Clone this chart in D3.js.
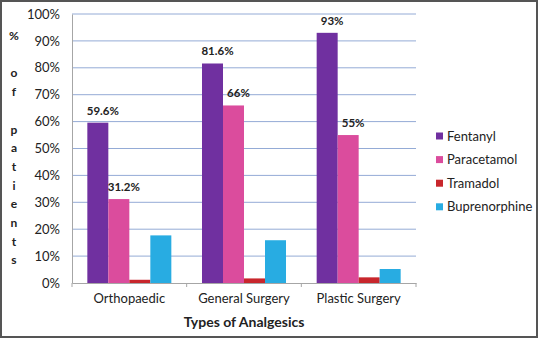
<!DOCTYPE html>
<html><head><meta charset="utf-8">
<script src="https://cdn.jsdelivr.net/npm/d3@7"></script>
<style>html,body{margin:0;padding:0;background:#fff}svg{display:block}</style>
</head><body>
<script>
const categories = ["Orthopaedic", "General Surgery", "Plastic Surgery"];
const seriesNames = ["Fentanyl", "Paracetamol", "Tramadol", "Buprenorphine"];
const fentanyl = [59.6, 81.6, 93];
const paracetamol = [31.2, 66, 55];
const tramadol = [1.2, 1.7, 2.1];
const buprenorphine = [17.7, 15.9, 5.2];
const seriesValues = [fentanyl, paracetamol, tramadol, buprenorphine];
const labelTexts = [["59.6%", "31.2%"], ["81.6%", "66%"], ["93%", "55%"]];
const yTicks = [0, 10, 20, 30, 40, 50, 60, 70, 80, 90, 100];
const yTitle = ["%", "", "o", "f", "", "p", "a", "t", "i", "e", "n", "t", "s"];
const xTitle = "Types of Analgesics";
const colors = ["#7030a0", "#db4c9d", "#c8262c", "#28ace2"];

const W = 538, H = 338;
const svg = d3.select("body").append("svg").attr("width", W).attr("height", H);
const font = "Lato, 'Open Sans', sans-serif";

svg.append("rect").attr("x", 1).attr("y", 1).attr("width", W - 2).attr("height", H - 2)
  .attr("fill", "#fff").attr("stroke", "#555").attr("stroke-width", 2);

const x0 = d3.scaleBand().domain(categories).range([72, 416]).paddingInner(0).paddingOuter(0);
const x1 = d3.scaleBand().domain(seriesNames).range([0, x0.bandwidth()]).paddingInner(0).paddingOuter(0.73);
const y = d3.scaleLinear().domain([0, 100]).range([283, 14]);

// gridlines
svg.append("g").selectAll("line").data(yTicks.filter(d => d > 0)).join("line")
  .attr("x1", 72).attr("x2", 416).attr("y1", d => y(d)).attr("y2", d => y(d))
  .attr("stroke", "#94abd6").attr("stroke-width", 1);

// y axis
const ya = svg.append("g").attr("transform", "translate(72,0)")
  .call(d3.axisLeft(y).tickValues(yTicks).tickFormat(d => d + "%").tickSize(0).tickPadding(12));
ya.select(".domain").attr("stroke", "#a6a6a6");
ya.selectAll("text").attr("font-family", font).attr("font-size", 13).attr("fill", "#222");

// x axis
const xa = svg.append("g").attr("transform", "translate(0,283)")
  .call(d3.axisBottom(x0).tickSize(0).tickPadding(11));
xa.select(".domain").attr("stroke", "#a6a6a6");
xa.selectAll("text").attr("font-family", font).attr("font-size", 13).attr("fill", "#222");
svg.append("g").selectAll("line").data([72, ...categories.map(c => x0(c) + x0.bandwidth())]).join("line")
  .attr("x1", d => d).attr("x2", d => d).attr("y1", 283).attr("y2", 287)
  .attr("stroke", "#a6a6a6");

// bars
const groups = svg.append("g").selectAll("g").data(categories).join("g")
  .attr("transform", c => `translate(${x0(c)},0)`);
groups.selectAll("rect").data((c, i) => seriesNames.map((s, j) => ({s, j, v: seriesValues[j][i]}))).join("rect")
  .attr("x", d => x1(d.s)).attr("width", x1.bandwidth())
  .attr("y", d => y(d.v)).attr("height", d => y(0) - y(d.v))
  .attr("fill", d => colors[d.j]);

// labels
groups.selectAll("text.lbl").data((c, i) => labelTexts[i].map((t, j) => ({t, j, v: seriesValues[j][i], s: seriesNames[j]}))).join("text")
  .attr("class", "lbl")
  .attr("x", d => x1(d.s) + x1.bandwidth() / 2 + 5)
  .attr("y", d => y(d.v) - 8)
  .attr("text-anchor", "middle").attr("font-family", font).attr("font-size", 11.5)
  .attr("font-weight", "bold").attr("fill", "#222").text(d => d.t);

// y title
svg.append("g").selectAll("text").data(yTitle).join("text")
  .attr("x", 14).attr("y", (d, i) => 40 + i * 18.7)
  .attr("text-anchor", "middle").attr("font-family", font).attr("font-size", 12)
  .attr("font-weight", "bold").attr("fill", "#222").text(d => d);

// x title
svg.append("text").attr("x", 244).attr("y", 327).attr("text-anchor", "middle")
  .attr("font-family", font).attr("font-size", 14).attr("font-weight", "bold").attr("fill", "#222")
  .text(xTitle);

// legend
const lg = svg.append("g").selectAll("g").data(seriesNames).join("g")
  .attr("transform", (d, i) => `translate(436,${136 + i * 23.6})`);
lg.append("rect").attr("x", 0).attr("y", -3.5).attr("width", 7).attr("height", 7).attr("fill", (d, i) => colors[i]);
lg.append("text").attr("x", 11).attr("y", 0).attr("dy", "0.35em")
  .attr("font-family", font).attr("font-size", 13).attr("fill", "#222").text(d => d);
</script>
</body></html>
